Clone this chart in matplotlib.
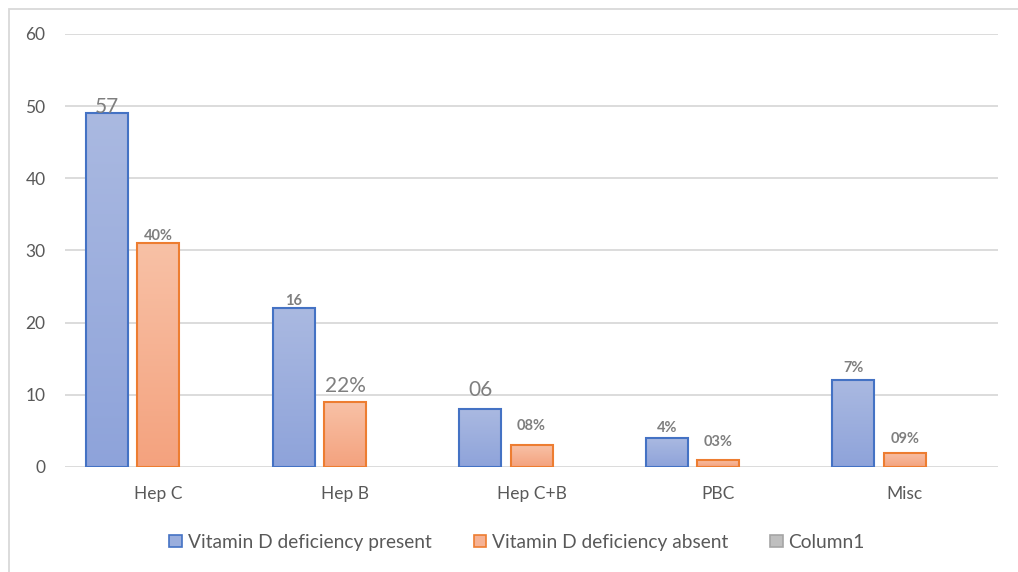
import numpy as np
import matplotlib

matplotlib.use("Agg")
import matplotlib.pyplot as plt
from matplotlib.colors import LinearSegmentedColormap
from matplotlib.patches import Patch, Rectangle

categories = ["Hep C", "Hep B", "Hep C+B", "PBC", "Misc"]
present = [49, 22, 8, 4, 12]
absent = [31, 9, 3, 1, 2]
present_labels = ["57", "16", "06", "4%", "7%"]
absent_labels = ["40%", "22%", "08%", "03%", "09%"]
series_names = ["Vitamin D deficiency present", "Vitamin D deficiency absent", "Column1"]

# label styling (large/regular or small/bold) and vertical offsets in points
present_big = [True, False, True, False, False]
absent_big = [False, True, False, False, False]
present_dy = [-2.5, 0, 7, 2, 4]
absent_dy = [0, 4, 9, 8, 5]

plt.rcParams["font.family"] = ["Lato", "DejaVu Sans"]

BLUE_EDGE = "#4472C4"
ORANGE_EDGE = "#ED7D31"
blue_cmap = LinearSegmentedColormap.from_list("b", ["#8EA3DA", "#AAB9E1"])
orange_cmap = LinearSegmentedColormap.from_list("o", ["#F4A27E", "#F8C1A6"])
LABEL_GREY = "#7F7F7F"
TICK_GREY = "#595959"

fig = plt.figure(figsize=(10.18, 5.72), dpi=100)
ax = fig.add_axes([0.0639, 0.1836, 0.9165, 0.757])

x = np.arange(len(categories))
w = 0.225
step = 0.275
grad = np.linspace(0, 1, 256).reshape(-1, 1)


def gradient_bars(xs, vals, cmap, edge):
    for xi, v in zip(xs, vals):
        ax.imshow(grad, cmap=cmap, origin="lower", aspect="auto",
                  extent=(xi - w / 2, xi + w / 2, 0, v), zorder=2)
        ax.add_patch(Rectangle((xi - w / 2, 0), w, v, fill=False,
                               edgecolor=edge, lw=1.5, zorder=3))


gradient_bars(x - step, present, blue_cmap, BLUE_EDGE)
gradient_bars(x, absent, orange_cmap, ORANGE_EDGE)


def labels(xs, vals, texts, big, dys):
    for xi, v, t, b, dy in zip(xs, vals, texts, big, dys):
        ax.annotate(t, (xi, v), xytext=(0, dy), textcoords="offset points",
                    ha="center", va="bottom", color=LABEL_GREY,
                    fontsize=15 if b else 10.5,
                    fontweight="normal" if b else "bold", zorder=4)


labels(x - step, present, present_labels, present_big, present_dy)
labels(x + 0.0, absent, absent_labels, absent_big, absent_dy)

ax.set_xlim(-0.5, len(categories) - 0.5)
ax.set_ylim(0, 60)
ax.set_yticks(range(0, 61, 10))
ax.set_xticks(x)
ax.set_xticklabels(categories)
ax.tick_params(axis="both", length=0, labelsize=12.5, labelcolor=TICK_GREY)
ax.tick_params(axis="y", pad=14)
ax.tick_params(axis="x", pad=14)
ax.grid(True, axis="y", color="#D9D9D9", lw=1.3, zorder=0)
ax.set_axisbelow(True)
for s in ax.spines.values():
    s.set_visible(False)

handles = [
    Patch(facecolor="#9AAEDD", edgecolor=BLUE_EDGE, lw=1.2),
    Patch(facecolor="#F6B294", edgecolor=ORANGE_EDGE, lw=1.2),
    Patch(facecolor="#BFBFBF", edgecolor="#A5A5A5", lw=1.2),
]
fig.legend(handles, series_names, loc="center", bbox_to_anchor=(0.508, 0.052),
           ncol=3, frameon=False, fontsize=13.8, labelcolor=TICK_GREY,
           handlelength=0.65, handleheight=0.65, handletextpad=0.3,
           columnspacing=2.2)

fig.patches.append(Rectangle((9 / 1018, -0.1), 1.2, 1.1 - 9 / 572,
                             transform=fig.transFigure, fill=False,
                             edgecolor="#D9D9D9", lw=1.3))

fig.savefig("out.png", dpi=100)
